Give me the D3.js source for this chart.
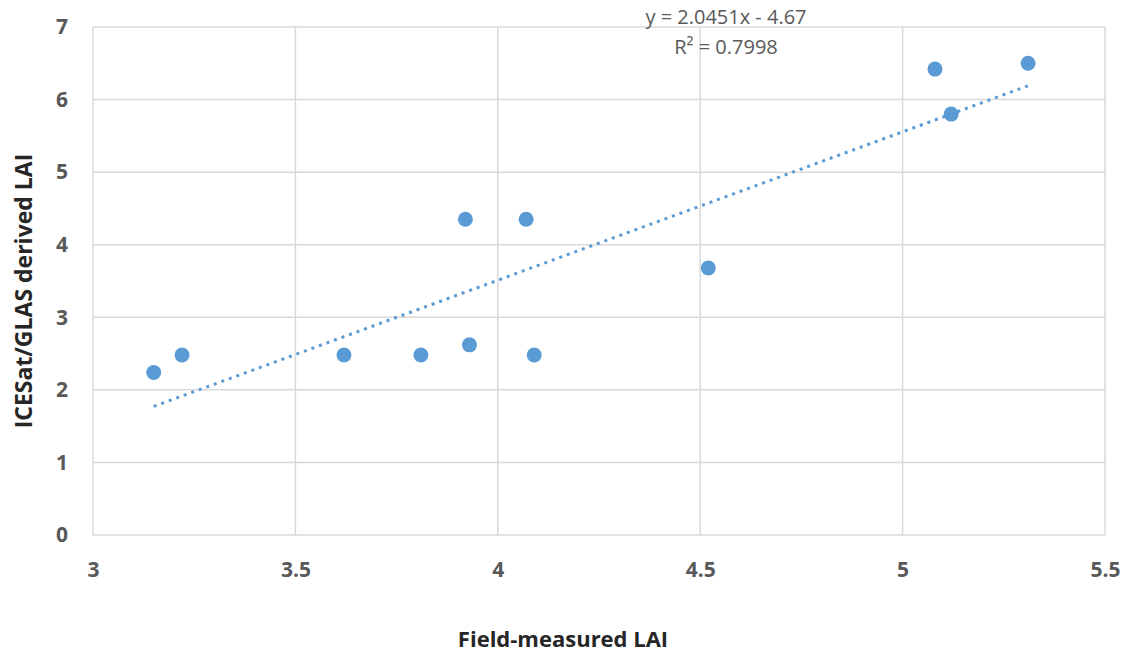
<!DOCTYPE html>
<html><head><meta charset="utf-8">
<script src="https://cdn.jsdelivr.net/npm/d3@7/dist/d3.min.js"></script>
<style>body{margin:0;background:#fff}</style>
</head><body>
<svg id="chart" width="1131" height="654"></svg>
<script>
const fieldLAI = [3.15, 3.22, 3.62, 3.81, 3.92, 3.93, 4.07, 4.09, 4.52, 5.08, 5.12, 5.31];
const glasLAI  = [2.24, 2.48, 2.48, 2.48, 4.35, 2.62, 4.35, 2.48, 3.68, 6.42, 5.80, 6.50];
const xTicks = [3, 3.5, 4, 4.5, 5, 5.5];
const xTickLabels = ["3", "3.5", "4", "4.5", "5", "5.5"];
const yTicks = [0, 1, 2, 3, 4, 5, 6, 7];
const slope = 2.0451, intercept = -4.67;
const eqLabel = "y = 2.0451x - 4.67";
const r2Label = "R² = 0.7998";
const xTitle = "Field-measured LAI";
const yTitle = "ICESat/GLAS derived LAI";

const svg = d3.select("#chart");
const m = {left: 93, right: 1105, top: 27, bottom: 535};
const x = d3.scaleLinear().domain([3, 5.5]).range([m.left, m.right]);
const y = d3.scaleLinear().domain([0, 7]).range([m.bottom, m.top]);
const font = "'Open Sans', Calibri, sans-serif";
const grey = "#595959";

// gridlines
svg.append("g").selectAll("line").data(yTicks).join("line")
  .attr("x1", m.left).attr("x2", m.right)
  .attr("y1", d => y(d)).attr("y2", d => y(d))
  .attr("stroke", "#d9d9d9").attr("stroke-width", 1.5);
svg.append("g").selectAll("line").data(xTicks).join("line")
  .attr("y1", m.top).attr("y2", m.bottom)
  .attr("x1", d => x(d)).attr("x2", d => x(d))
  .attr("stroke", "#d9d9d9").attr("stroke-width", 1.5);

// axes labels via d3 axes
const xAxis = d3.axisBottom(x).tickValues(xTicks).tickFormat((d, i) => xTickLabels[i]).tickSize(0).tickPadding(27);
const gx = svg.append("g").attr("transform", `translate(0,${m.bottom})`).call(xAxis);
gx.select(".domain").remove();
gx.selectAll("text").attr("font-family", font).attr("font-size", 21).attr("font-weight", "bold").attr("fill", grey);

const yAxis = d3.axisLeft(y).tickValues(yTicks).tickFormat(d3.format("d")).tickSize(0).tickPadding(25);
const gy = svg.append("g").attr("transform", `translate(${m.left},0)`).call(yAxis);
gy.select(".domain").remove();
gy.selectAll("text").attr("font-family", font).attr("font-size", 21).attr("font-weight", "bold").attr("fill", grey);

// trendline
const xMin = d3.min(fieldLAI), xMax = d3.max(fieldLAI);
svg.append("line")
  .attr("x1", x(xMin)).attr("y1", y(slope * xMin + intercept))
  .attr("x2", x(xMax)).attr("y2", y(slope * xMax + intercept))
  .attr("stroke", "#5b9bd5").attr("stroke-width", 3).attr("stroke-dasharray", "3,5");

// points
svg.append("g").selectAll("circle").data(fieldLAI).join("circle")
  .attr("cx", d => x(d)).attr("cy", (d, i) => y(glasLAI[i])).attr("r", 7.5)
  .attr("fill", "#5b9bd5");

// equation
svg.append("text").attr("x", 726).attr("y", 24).attr("text-anchor", "middle")
  .attr("font-family", font).attr("font-size", 20).attr("fill", grey).text(eqLabel);
svg.append("text").attr("x", 726).attr("y", 54).attr("text-anchor", "middle")
  .attr("font-family", font).attr("font-size", 20).attr("fill", grey).text(r2Label);

// titles
svg.append("text").attr("x", 563).attr("y", 647).attr("text-anchor", "middle")
  .attr("font-family", font).attr("font-size", 22).attr("font-weight", "bold").attr("fill", "#262626").text(xTitle);
svg.append("text").attr("transform", "translate(32,291) rotate(-90)").attr("text-anchor", "middle")
  .attr("font-family", font).attr("font-size", 23).attr("font-weight", "bold").attr("fill", "#262626").text(yTitle);
</script>
</body></html>
